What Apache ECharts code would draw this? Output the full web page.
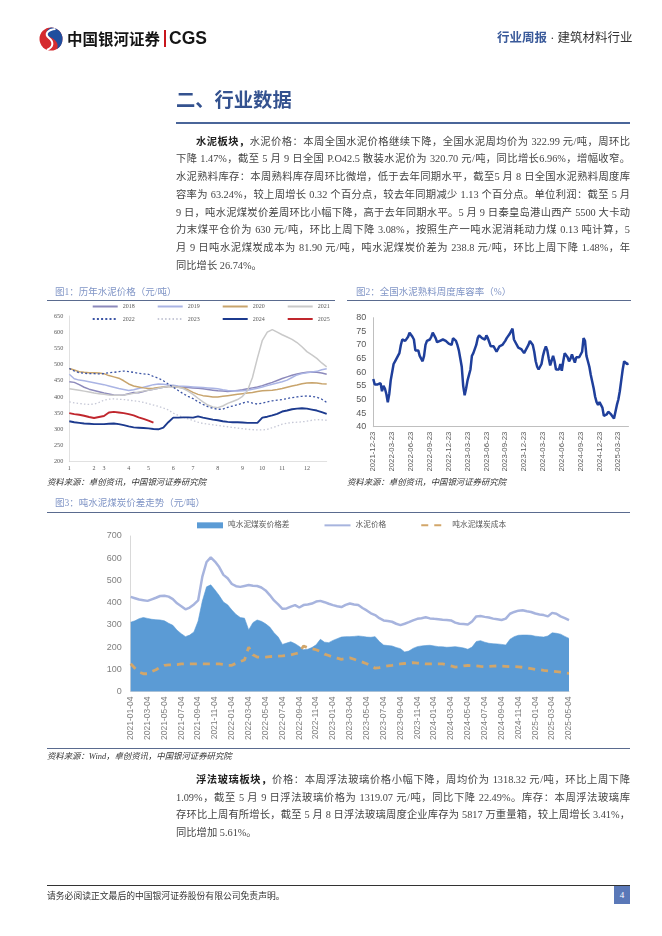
<!DOCTYPE html>
<html><head><meta charset="utf-8">
<script src="https://cdn.jsdelivr.net/npm/echarts@6/dist/echarts.min.js"></script>
<style>
html,body{margin:0;padding:0;background:#fff;}
#page{position:relative;width:662px;height:936px;overflow:hidden;font-family:"Liberation Serif","Noto Sans CJK SC",serif;color:#404040;}
#chart{position:absolute;left:0;top:0;width:662px;height:936px;}
#txt{position:absolute;left:0;top:0;width:662px;height:936px;pointer-events:none;}
.t{position:absolute;white-space:nowrap;}
.ln{position:absolute;left:176px;width:454px;height:18px;line-height:18px;font-size:10.3px;text-align:justify;text-align-last:justify;color:#454545;white-space:nowrap;}
.ln.last{text-align-last:left;}
.ln.ind{left:196px;width:434px;}
.rule{position:absolute;height:1.2px;background:#5a6b8f;}
.ctitle{position:absolute;font-size:9.5px;color:#8095c6;line-height:12px;white-space:nowrap;}
.src{position:absolute;font-size:8.4px;color:#333;font-style:italic;line-height:11px;white-space:nowrap;}
b{color:#222;}
</style></head>
<body>
<div id="page">
<div id="chart"></div>
<div id="txt">
  <svg style="position:absolute;left:38px;top:26px" width="26" height="26" viewBox="0 0 26 26">
    <circle cx="13" cy="13" r="11.5" fill="#d52b2f"/>
    <path d="M13 1.5 A11.5 11.5 0 0 1 24.5 13 A11.5 11.5 0 0 1 19 23 C 22 16, 15 12.5, 10 10 C 7 8, 8 3.5, 13 1.5 Z" fill="#1f4e9e"/>
    <path d="M17.5 3 C 10 3.5, 6 8, 11 12 C 16 16, 15.5 21, 9 24" stroke="#fff" stroke-width="2" fill="none"/>
  </svg>
  <div class="t" style="left:67px;top:27px;font-family:'Noto Sans CJK SC';font-weight:700;font-size:15.5px;line-height:22px;color:#151515;">中国银河证券</div>
  <div class="t" style="left:164px;top:30px;width:1.6px;height:17px;background:#c8161d;"></div>
  <div class="t" style="left:169px;top:26px;font-family:'Liberation Sans';font-weight:700;font-size:17.5px;line-height:24px;color:#151515;">CGS</div>
  <div class="t" style="left:497px;top:30px;font-size:12.5px;line-height:17px;"><span style="color:#3a5a9a;font-weight:700;">行业周报</span><span style="color:#333;"> · 建筑材料行业</span></div>

  <div class="t" style="left:176px;top:87px;font-family:'Noto Sans CJK SC';font-weight:700;font-size:19.3px;line-height:24px;color:#34528f;">二、行业数据</div>
  <div class="rule" style="left:176px;top:122px;width:454px;height:1.5px;background:#4a6599;"></div>

  <div class="ln ind" style="top:132.7px;"><b>水泥板块，</b>水泥价格：本周全国水泥价格继续下降，全国水泥周均价为 322.99 元/吨，周环比</div>
  <div class="ln" style="top:150.4px;">下降 1.47%，截至 5 月 9 日全国 P.O42.5 散装水泥价为 320.70 元/吨，同比增长6.96%，增幅收窄。</div>
  <div class="ln" style="top:168.1px;">水泥熟料库存：本周熟料库存周环比微增，低于去年同期水平，截至5 月 8 日全国水泥熟料周度库</div>
  <div class="ln" style="top:185.8px;">容率为 63.24%，较上周增长 0.32 个百分点，较去年同期减少 1.13 个百分点。单位利润：截至 5 月</div>
  <div class="ln" style="top:203.5px;">9 日，吨水泥煤炭价差周环比小幅下降，高于去年同期水平。5 月 9 日秦皇岛港山西产 5500 大卡动</div>
  <div class="ln" style="top:221.2px;">力末煤平仓价为 630 元/吨，环比上周下降 3.08%，按照生产一吨水泥消耗动力煤 0.13 吨计算，5</div>
  <div class="ln" style="top:238.9px;">月 9 日吨水泥煤炭成本为 81.90 元/吨，吨水泥煤炭价差为 238.8 元/吨，环比上周下降 1.48%，年</div>
  <div class="ln last" style="top:256.6px;">同比增长 26.74%。</div>

  <div class="ctitle" style="left:55px;top:286px;">图1：历年水泥价格（元/吨）</div>
  <div class="rule" style="left:47px;top:300px;width:288px;"></div>
  <div class="ctitle" style="left:356px;top:286px;">图2：全国水泥熟料周度库容率（%）</div>
  <div class="rule" style="left:347px;top:300px;width:284px;"></div>
  <div class="src" style="left:47px;top:477px;">资料来源：卓创资讯，中国银河证券研究院</div>
  <div class="src" style="left:347px;top:477px;">资料来源：卓创资讯，中国银河证券研究院</div>

  <div class="ctitle" style="left:55px;top:497px;">图3：吨水泥煤炭价差走势（元/吨）</div>
  <div class="rule" style="left:47px;top:511.5px;width:583px;"></div>
  <div class="rule" style="left:47px;top:747.5px;width:583px;"></div>
  <div class="src" style="left:47px;top:751px;">资料来源：Wind，卓创资讯，中国银河证券研究院</div>

  <div class="ln ind" style="top:771px;"><b>浮法玻璃板块，</b>价格：本周浮法玻璃价格小幅下降，周均价为 1318.32 元/吨，环比上周下降</div>
  <div class="ln" style="top:788.7px;">1.09%，截至 5 月 9 日浮法玻璃价格为 1319.07 元/吨，同比下降 22.49%。库存：本周浮法玻璃库</div>
  <div class="ln" style="top:806.4px;">存环比上周有所增长，截至 5 月 8 日浮法玻璃周度企业库存为 5817 万重量箱，较上周增长 3.41%，</div>
  <div class="ln last" style="top:824.1px;">同比增加 5.61%。</div>

  <div class="rule" style="left:47px;top:885px;width:583px;height:1.2px;background:#333;"></div>
  <div class="t" style="left:47px;top:890px;font-size:8.8px;line-height:12px;color:#333;">请务必阅读正文最后的中国银河证券股份有限公司免责声明。</div>
  <div class="t" style="left:614px;top:886px;width:16px;height:18px;background:#5a78b8;color:#fff;font-size:9px;line-height:18px;text-align:center;">4</div>
</div>
</div>
<script>
// ---------- Chart 1: 历年水泥价格 ----------
const monthPos = [0, 5, 7, 12, 16, 21, 25, 30, 35, 39, 43, 48];
const monthLabels = ['1','2','3','4','5','6','7','8','9','10','11','12'];
const weekIdx = Array.from({length: 53}, (_, i) => String(i));
const y2018 = [447,445,438,430,424,420,416,412,409,406,405,406,410,414,413,417,421,424,427,430,432,432,431,430,429,428,427,425,423,421,419,418,417,418,420,422,425,428,431,435,440,445,451,457,462,467,471,474,476,477,476,474,470];
const y2019 = [470,456,452,450,447,444,441,438,434,430,426,423,420,422,426,430,434,438,440,439,437,436,434,433,432,431,430,429,428,427,425,422,420,419,418,419,421,424,427,431,435,439,443,447,452,460,468,472,475,477,479,484,487];
const y2020 = [488,483,478,476,475,475,474,472,466,462,458,450,440,434,431,428,426,427,429,431,432,432,430,428,422,414,408,404,402,400,400,402,404,406,408,410,412,414,417,419,420,421,423,426,430,434,437,441,443,444,443,441,440];
const y2021 = [425,423,421,418,415,412,410,408,406,405,405,406,408,411,415,418,421,424,427,430,432,432,430,426,418,408,396,385,375,369,367,372,380,386,392,402,420,460,520,575,600,608,600,592,585,578,568,555,540,530,519,505,493];
const y2022 = [488,480,475,473,472,472,471,472,475,476,478,480,478,476,473,471,470,463,458,450,440,430,420,410,402,395,385,377,370,365,362,362,368,372,376,381,385,381,378,381,385,388,390,392,395,398,400,402,403,402,399,393,383];
const y2023 = [385,382,380,378,377,378,383,390,393,394,393,392,390,388,386,383,379,375,371,366,360,350,343,337,332,327,322,318,316,314,312,310,308,306,304,302,300,299,298,298,300,305,310,316,319,321,322,323,325,328,330,329,328];
const y2024 = [325,322,320,318,317,316,316,316,317,318,316,313,309,306,305,304,303,301,300,305,322,336,336,337,337,336,340,336,333,330,328,325,323,322,322,321,320,320,320,336,339,343,348,355,358,362,364,365,364,361,358,353,348];
const y2025 = [350,347,345,342,338,335,338,341,352,354,352,350,347,343,337,332,327,321];

// ---------- Chart 2: 全国水泥熟料周度库容率 ----------
const quarterLabels = ['2021-12-23','2022-03-23','2022-06-23','2022-09-23','2022-12-23','2023-03-23','2023-06-23','2023-09-23','2023-12-23','2024-03-23','2024-06-23','2024-09-23','2024-12-23','2025-03-23'];
const clinkerRate = [57.5,55.5,55,55.5,56,56,53,55,54,52,49,
  52,57,60,63,64,65,66,67,70,72,
  72,71.5,72,73,74.5,74,73,72,68,67.5,
  68,66,65,64,66,70,71.5,72,72,73,
  74.5,73.5,72.5,71,70.5,71.5,72,72,71.5,71.5,
  71,70.5,70,70,72.5,72.5,71.5,70,68,65,
  62,55,51.5,54,57,59,61,66,67,67,
  70,72.5,73.5,74,72.5,72,72,73.5,72.5,71,
  69.5,69,69.5,69,67.5,68.5,69.5,70,70,70.5,
  71.5,72.5,73,74,74.5,76,72,71,70.5,69,
  69,68.5,68,67,68,69,70,71.5,71,70,
  67.5,64,62,61,60.5,63,66,68,69.5,68,
  65,62.5,63,66,64,61,60.5,61,63,60.5,
  64,67,67,65.5,64,65,66.5,65,63.5,65.5,
  65.5,65.5,66,67.5,72.5,71.5,66,64,62,59,
  56.5,54,51,49,48,49,49.5,47,44,43.5,
  44.5,45.5,45,44.5,44.5,43,42.5,48,50,53,
  57,61,64,63.5,63,63.24];
const clinkerIdx = clinkerRate.map((_, i) => String(i));

// ---------- Chart 3: 吨水泥煤炭价差走势 ----------
const dateLabels = ['2021-01-04','2021-03-04','2021-05-04','2021-07-04','2021-09-04','2021-11-04',
  '2022-01-04','2022-03-04','2022-05-04','2022-07-04','2022-09-04','2022-11-04',
  '2023-01-04','2023-03-04','2023-05-04','2023-07-04','2023-09-04','2023-11-04',
  '2024-01-04','2024-03-04','2024-05-04','2024-07-04','2024-09-04','2024-11-04',
  '2025-01-04','2025-03-04','2025-05-04'];
const spread = [312,318,328,333,329,325,323,322,318,307,
  298,276,260,247,254,268,317,407,471,480,
  457,432,403,390,367,347,333,330,277,310,
  322,316,305,290,265,245,212,218,224,215,
  203,188,190,198,210,235,222,220,230,238,
  245,247,247,248,250,248,245,244,247,225,
  209,207,205,198,193,178,182,194,202,205,
  207,208,205,202,201,199,200,202,199,196,
  190,200,225,229,222,217,215,214,212,209,
  235,247,253,254,254,253,249,247,245,250,
  264,262,258,248,239];
const cementPrice = [426,420,414,411,408,415,422,430,431,427,
  416,397,384,370,378,392,410,517,583,604,
  585,560,525,510,484,474,471,475,479,476,
  475,468,455,434,410,392,372,374,382,389,
  378,389,392,396,405,408,402,395,389,384,
  380,390,396,392,389,376,365,352,344,330,
  320,317,314,305,299,305,312,320,327,330,
  334,329,327,325,323,322,320,310,305,304,
  302,315,338,340,336,333,328,325,322,328,
  350,358,364,366,361,358,351,347,344,338,
  354,350,338,330,321];
const coalCost = [125,105,88,80,80,90,98,110,118,120,
  120,121,124,125,124,124,124,124,124,124,
  124,124,122,118,118,127,135,142,200,165,
  155,154,155,157,158,159,160,162,165,170,
  175,205,197,193,188,180,168,162,155,150,
  145,148,151,145,138,132,125,115,105,108,
  112,115,118,122,124,126,128,130,128,126,
  124,124,124,124,124,120,115,110,112,115,
  117,116,115,113,112,113,114,115,114,113,
  112,112,111,109,106,103,100,98,95,93,
  91,89,87,84,82];
const halfMonthIdx = spread.map((_, i) => String(i));

const serif = "'Liberation Serif','Noto Sans CJK SC'";
const sans = "'Liberation Sans','Noto Sans CJK SC'";

function yr(name, data, color, width, type) {
  return {name, type: 'line', xAxisIndex: 0, yAxisIndex: 0, data, symbol: 'none', showSymbol: false,
    lineStyle: {color, width, type: type || 'solid'}, itemStyle: {color}, emphasis: {disabled: true}};
}
const noSym = {opacity: 0};

const chart = echarts.init(document.getElementById('chart'), null, {renderer: 'canvas'});
chart.setOption({
  animation: false,
  backgroundColor: 'transparent',
  grid: [
    {left: 69.3, top: 316, width: 257.4, height: 145.7, containLabel: false, outerBoundsMode: 'none'},
    {left: 373.3, top: 317.7, width: 255.2, height: 109, containLabel: false, outerBoundsMode: 'none'},
    {left: 130.7, top: 536, width: 438.3, height: 155.5, containLabel: false, outerBoundsMode: 'none'}
  ],
  legend: [
    {data: ['2018','2019','2020','2021'], left: 91.7, top: 303.5, padding: 0, itemWidth: 25, itemHeight: 6, itemGap: 22,
     itemStyle: noSym, lineStyle: {width: 2},
     textStyle: {fontSize: 6, fontFamily: serif, color: '#595959'}, selectedMode: false},
    {data: ['2022','2023','2024','2025'], left: 91.7, top: 316, padding: 0, itemWidth: 25, itemHeight: 6, itemGap: 22,
     itemStyle: noSym,
     textStyle: {fontSize: 6, fontFamily: serif, color: '#595959'}, selectedMode: false},
    {data: [{name: '吨水泥煤炭价格差', icon: 'rect'}, {name: '水泥价格', itemStyle: noSym}, {name: '吨水泥煤炭成本', itemStyle: noSym}],
     left: 197, top: 521.5, padding: 0, itemWidth: 26, itemHeight: 6, itemGap: 34,
     textStyle: {fontSize: 7.7, fontFamily: serif, color: '#595959'}, selectedMode: false}
  ],
  xAxis: [
    {type: 'category', gridIndex: 0, data: weekIdx, boundaryGap: false,
     axisLine: {show: true, lineStyle: {color: '#d9d9d9', width: 0.8}}, axisTick: {show: false}, splitLine: {show: false},
     axisLabel: {interval: (i) => monthPos.indexOf(i) >= 0, formatter: (v, i) => monthLabels[monthPos.indexOf(Number(v))] || '',
       fontSize: 6, fontFamily: serif, color: '#595959', margin: 4}},
    {type: 'category', gridIndex: 1, data: clinkerIdx, boundaryGap: false,
     axisLine: {show: true, lineStyle: {color: '#bfbfbf', width: 1}}, axisTick: {show: false}, splitLine: {show: false},
     axisLabel: {interval: 12, rotate: 90, formatter: (v) => quarterLabels[Number(v) / 13] || '',
       fontSize: 7.8, fontFamily: sans, color: '#595959', margin: 5}},
    {type: 'category', gridIndex: 2, data: halfMonthIdx, boundaryGap: false,
     axisLine: {show: true, lineStyle: {color: '#d9d9d9', width: 1}}, axisTick: {show: false}, splitLine: {show: false},
     axisLabel: {interval: 3, rotate: 90, formatter: (v) => dateLabels[Number(v) / 4] || '',
       fontSize: 8.5, fontFamily: sans, color: '#808080', margin: 5}}
  ],
  yAxis: [
    {type: 'value', gridIndex: 0, min: 200, max: 650, interval: 50,
     axisLine: {show: true, lineStyle: {color: '#d9d9d9', width: 0.8}}, axisTick: {show: false}, splitLine: {show: false},
     axisLabel: {fontSize: 6.2, fontFamily: serif, color: '#595959', margin: 6, showMinLabel: true, showMaxLabel: true}},
    {type: 'value', gridIndex: 1, min: 40, max: 80, interval: 5,
     axisLine: {show: true, lineStyle: {color: '#bfbfbf', width: 1}}, axisTick: {show: false}, splitLine: {show: false},
     axisLabel: {fontSize: 9, fontFamily: sans, color: '#595959', margin: 7, showMinLabel: true, showMaxLabel: true}},
    {type: 'value', gridIndex: 2, min: 0, max: 700, interval: 100,
     axisLine: {show: true, lineStyle: {color: '#d9d9d9', width: 1}}, axisTick: {show: false}, splitLine: {show: false},
     axisLabel: {fontSize: 9, fontFamily: sans, color: '#808080', margin: 9, showMinLabel: true, showMaxLabel: true}}
  ],
  series: [
    yr('2018', y2018, '#8c89bb', 1.5),
    yr('2019', y2019, '#aab4e4', 1.5),
    yr('2020', y2020, '#c8a46c', 1.5),
    yr('2021', y2021, '#c9c9c9', 1.5),
    yr('2022', y2022, '#3c55a5', 1.3, [2, 2.2]),
    yr('2023', y2023, '#c6c8d6', 1.3, [1.5, 2.2]),
    yr('2024', y2024, '#1c3a8e', 1.9),
    yr('2025', y2025, '#c0262d', 1.9),
    {name: '库容率', type: 'line', xAxisIndex: 1, yAxisIndex: 1, data: clinkerRate, symbol: 'none', showSymbol: false,
     lineStyle: {color: '#1f3f9b', width: 2.5}, itemStyle: {color: '#1f3f9b'}},
    {name: '吨水泥煤炭价格差', type: 'line', xAxisIndex: 2, yAxisIndex: 2, data: spread, symbol: 'none', showSymbol: false,
     lineStyle: {color: '#5b9bd5', width: 0.6}, itemStyle: {color: '#5b9bd5'}, areaStyle: {color: '#5b9bd5', opacity: 1}},
    {name: '水泥价格', type: 'line', xAxisIndex: 2, yAxisIndex: 2, data: cementPrice, symbol: 'none', showSymbol: false,
     lineStyle: {color: '#a7b4de', width: 2.5}, itemStyle: {color: '#a7b4de'}},
    {name: '吨水泥煤炭成本', type: 'line', xAxisIndex: 2, yAxisIndex: 2, data: coalCost, symbol: 'none', showSymbol: false,
     lineStyle: {color: '#d2a66a', width: 2.8, type: [7, 6]}, itemStyle: {color: '#d2a66a'}}
  ]
});
</script>
</body></html>
